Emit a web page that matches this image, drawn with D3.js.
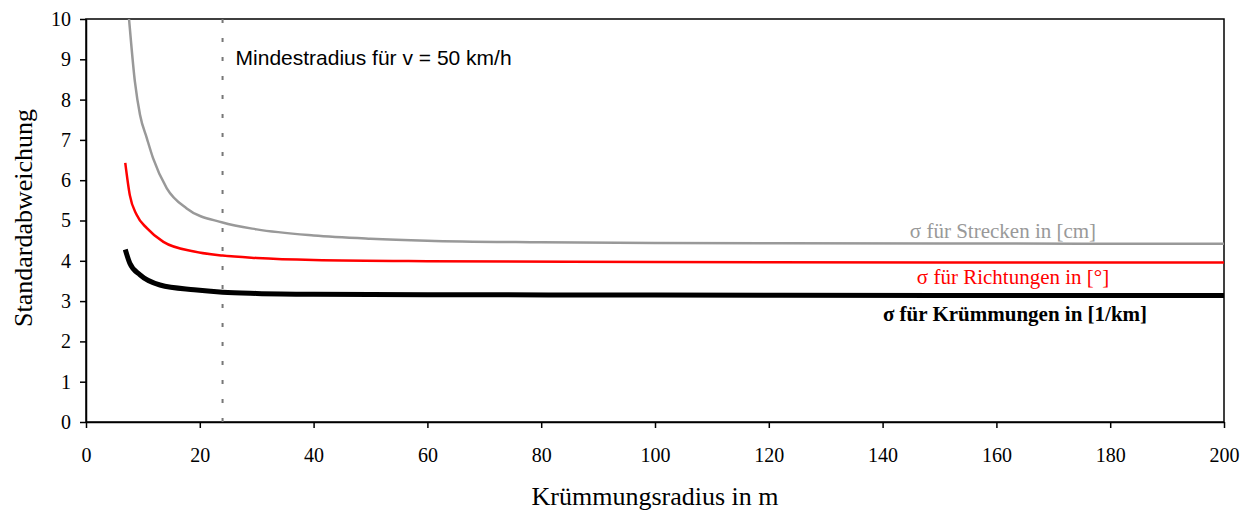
<!DOCTYPE html>
<html>
<head>
<meta charset="utf-8">
<script src="https://cdnjs.cloudflare.com/ajax/libs/d3/7.8.5/d3.min.js"></script>
<style>
  body { margin: 0; background: #fff; }
  #chart { width: 1249px; height: 511px; }
  .axis text { font-family: "Liberation Serif", "Times New Roman", serif; font-size: 20px; fill: #000; }
  .axis path, .axis line { stroke: #000; stroke-width: 1.5px; }
</style>
</head>
<body>
<div id="chart"></div>
<script>
// Krümmungsradius in m (x) and standard deviations (y)
var radiusStrecken = [7.0, 7.56, 8.6, 9.5, 10.7, 11.8, 14.2, 17.7, 24, 30, 40, 50, 60, 80, 100, 150, 200]
var sigmaStrecken  = [10.9, 10.0, 8.44, 7.62, 7.04, 6.54, 5.80, 5.30, 4.95, 4.78, 4.63, 4.55, 4.50, 4.46, 4.44, 4.43, 4.42]

var radiusRichtungen = [6.9, 7.7, 8.9, 10.7, 13.6, 19, 24, 30, 40, 60, 100, 150, 200]
var sigmaRichtungen  = [6.43, 5.63, 5.14, 4.81, 4.47, 4.23, 4.13, 4.07, 4.02, 3.99, 3.97, 3.96, 3.96]

var radiusKruemmungen = [6.9, 7.7, 9.5, 13, 19, 24, 30, 40, 60, 100, 150, 200]
var sigmaKruemmungen  = [4.28, 3.94, 3.65, 3.40, 3.28, 3.22, 3.19, 3.17, 3.16, 3.15, 3.14, 3.14]

var xTicks = [0, 20, 40, 60, 80, 100, 120, 140, 160, 180, 200]
var yTicks = [0, 1, 2, 3, 4, 5, 6, 7, 8, 9, 10]
var minRadius = 24   // Mindestradius für v = 50 km/h

var parentWidth = 1249, parentHeight = 511
var margin = { top: 19, right: 25, bottom: 89, left: 86 },
  width = parentWidth - margin.left - margin.right,
  height = parentHeight - margin.top - margin.bottom;

var svg = d3.select("#chart")
  .append("svg")
  .attr("width", parentWidth)
  .attr("height", parentHeight)
  .append("g")
  .attr("transform", "translate(" + margin.left + "," + margin.top + ")");

var x = d3.scaleLinear().domain([0, 200]).range([0, width])
var y = d3.scaleLinear().domain([0, 10]).range([height, 0])

svg.append("defs").append("clipPath").attr("id", "plotClip")
  .append("rect").attr("width", width).attr("height", height)

// frame of the plot area
svg.append("rect")
  .attr("width", width).attr("height", height)
  .attr("fill", "none").attr("stroke", "#000").attr("stroke-width", 1.5)

svg.append("g")
  .attr("class", "axis")
  .attr("transform", "translate(0," + height + ")")
  .call(d3.axisBottom(x).tickValues(xTicks).tickSize(6).tickPadding(20).tickSizeOuter(0))

svg.append("g")
  .attr("class", "axis")
  .call(d3.axisLeft(y).tickValues(yTicks).tickSize(6).tickPadding(9).tickSizeOuter(0))

// dotted marker line
svg.append("line")
  .attr("x1", x(minRadius)).attr("x2", x(minRadius))
  .attr("y1", 0).attr("y2", height)
  .attr("stroke", "#777").attr("stroke-width", 2)
  .attr("stroke-dasharray", "4,15")

svg.append("text")
  .attr("x", x(minRadius) + 13).attr("y", 46)
  .style("font-family", "'Liberation Sans', Arial, sans-serif")
  .style("font-size", "21px")
  .text("Mindestradius für v = 50 km/h")

// curves
var series = [
  { r: radiusStrecken, s: sigmaStrecken, color: "#999999", w: 2.5 },
  { r: radiusRichtungen, s: sigmaRichtungen, color: "#ff0000", w: 2.5 },
  { r: radiusKruemmungen, s: sigmaKruemmungen, color: "#000000", w: 5 }
]

var line = d3.line()
  .x(function(d) { return x(d[0]) })
  .y(function(d) { return y(d[1]) })
  .curve(d3.curveMonotoneX)

svg.append("g")
  .attr("clip-path", "url(#plotClip)")
  .selectAll("path")
  .data(series)
  .enter()
  .append("path")
  .attr("d", function(d) { return line(d3.zip(d.r, d.s)) })
  .attr("fill", "none")
  .attr("stroke", function(d) { return d.color })
  .attr("stroke-width", function(d) { return d.w })
  .attr("stroke-linejoin", "round")

// series labels
var labels = [
  { text: "σ für Strecken in [cm]", cx: 1003, by: 238, color: "#999999", weight: "normal" },
  { text: "σ für Richtungen in [°]", cx: 1013, by: 284, color: "#ff0000", weight: "normal" },
  { text: "σ für Krümmungen in [1/km]", cx: 1015, by: 321, color: "#000000", weight: "bold" }
]
svg.selectAll(".serieslabel")
  .data(labels)
  .enter()
  .append("text")
  .attr("class", "serieslabel")
  .attr("x", function(d) { return d.cx - margin.left })
  .attr("y", function(d) { return d.by - margin.top })
  .attr("text-anchor", "middle")
  .style("font-family", "'Liberation Serif', 'Times New Roman', serif")
  .style("font-size", "21px")
  .style("font-weight", function(d) { return d.weight })
  .style("fill", function(d) { return d.color })
  .text(function(d) { return d.text })

// axis titles
svg.append("text")
  .attr("x", width / 2).attr("y", 505 - margin.top)
  .attr("text-anchor", "middle")
  .style("font-family", "'Liberation Serif', 'Times New Roman', serif")
  .style("font-size", "26px")
  .text("Krümmungsradius in m")

svg.append("text")
  .attr("transform", "translate(" + (32 - margin.left) + "," + (218 - margin.top) + ") rotate(-90)")
  .attr("text-anchor", "middle")
  .style("font-family", "'Liberation Serif', 'Times New Roman', serif")
  .style("font-size", "26px")
  .text("Standardabweichung")
</script>
</body>
</html>
